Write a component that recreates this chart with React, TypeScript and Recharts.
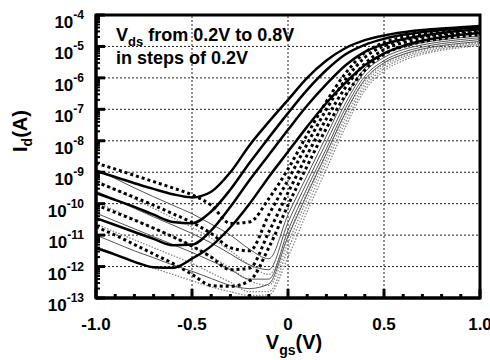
import React from "react";
import { LineChart, Line, XAxis, YAxis, ReferenceLine, ReferenceArea } from "recharts";

// gate voltage (V)
const vgs = [-1.0, -0.9, -0.8, -0.7, -0.6, -0.5, -0.4, -0.3, -0.2, -0.1, 0, 0.1, 0.2, 0.3, 0.4, 0.5, 0.6, 0.7, 0.8, 0.9, 1.0];

// log10(Id), Vds = 0.8 / 0.6 / 0.4 / 0.2 V
const solid08 = [-8.96, -9.15, -9.35, -9.53, -9.7, -9.8, -9.62, -9.0, -8.14, -7.4, -6.7, -6.0, -5.45, -5.05, -4.8, -4.65, -4.55, -4.48, -4.43, -4.39, -4.35];
const solid06 = [-9.66, -9.88, -10.1, -10.35, -10.58, -10.62, -10.25, -9.55, -8.7, -7.9, -7.12, -6.38, -5.75, -5.25, -4.95, -4.76, -4.63, -4.54, -4.48, -4.43, -4.39];
const solid04 = [-10.46, -10.68, -10.9, -11.12, -11.32, -11.3, -10.85, -10.1, -9.25, -8.45, -7.65, -6.88, -6.2, -5.6, -5.17, -4.93, -4.77, -4.66, -4.57, -4.5, -4.45];
const solid02 = [-11.41, -11.62, -11.85, -12.02, -12.04, -11.75, -11.35, -10.75, -10.0, -9.15, -8.35, -7.55, -6.8, -6.15, -5.6, -5.22, -4.98, -4.82, -4.71, -4.63, -4.57];

const dot08 = [-8.71, -8.9, -9.1, -9.3, -9.5, -9.72, -10.05, -10.63, -10.58, -9.84, -8.9, -7.8, -6.75, -5.85, -5.2, -4.88, -4.7, -4.6, -4.53, -4.48, -4.44];
const dot06 = [-9.31, -9.55, -9.8, -10.05, -10.32, -10.6, -10.95, -11.4, -11.5, -10.35, -9.25, -8.1, -7.0, -6.05, -5.35, -4.98, -4.8, -4.68, -4.6, -4.54, -4.5];
const dot04 = [-10.04, -10.28, -10.52, -10.78, -11.05, -11.35, -11.7, -12.1, -12.05, -10.9, -9.65, -8.45, -7.3, -6.3, -5.55, -5.1, -4.88, -4.75, -4.66, -4.6, -4.55];
const dot02 = [-10.74, -11.0, -11.3, -11.6, -11.9, -12.25, -12.6, -12.63, -12.45, -11.4, -10.05, -8.8, -7.6, -6.55, -5.75, -5.25, -5.0, -4.85, -4.75, -4.68, -4.62];

const thin08 = [-8.9, -9.2, -9.5, -9.78, -10.05, -10.32, -10.65, -11.0, -11.45, -11.75, -10.35, -9.1, -7.85, -6.6, -5.7, -5.25, -5.02, -4.88, -4.79, -4.72, -4.67];
const thin06 = [-9.6, -9.88, -10.15, -10.42, -10.68, -10.95, -11.25, -11.6, -11.95, -12.1, -10.6, -9.3, -8.05, -6.8, -5.82, -5.35, -5.1, -4.95, -4.85, -4.78, -4.72];
const thin04 = [-10.3, -10.55, -10.8, -11.05, -11.3, -11.55, -11.82, -12.1, -12.4, -12.4, -10.85, -9.5, -8.25, -6.95, -5.95, -5.45, -5.18, -5.02, -4.91, -4.84, -4.78];
const thin02 = [-11.0, -11.25, -11.5, -11.72, -11.95, -12.15, -12.38, -12.6, -12.7, -12.55, -11.05, -9.7, -8.4, -7.1, -6.05, -5.52, -5.25, -5.08, -4.97, -4.9, -4.84];

const grey08 = [-9.25, -9.55, -9.85, -10.15, -10.45, -10.75, -11.1, -11.5, -11.95, -12.25, -11.0, -9.65, -8.4, -7.1, -6.1, -5.55, -5.28, -5.1, -5.0, -4.93, -4.87];
const grey06 = [-9.95, -10.22, -10.5, -10.78, -11.05, -11.35, -11.68, -12.05, -12.45, -12.6, -11.25, -9.85, -8.55, -7.25, -6.2, -5.62, -5.33, -5.15, -5.04, -4.97, -4.9];
const grey04 = [-10.65, -10.9, -11.15, -11.4, -11.65, -11.9, -12.2, -12.5, -12.8, -12.8, -11.45, -10.05, -8.7, -7.4, -6.3, -5.7, -5.38, -5.2, -5.08, -5.0, -4.93];
const grey02 = [-11.35, -11.6, -11.82, -12.05, -12.25, -12.45, -12.65, -12.8, -12.92, -12.9, -11.7, -10.25, -8.9, -7.55, -6.4, -5.78, -5.45, -5.25, -5.12, -5.04, -4.97];

// axis ticks
const xMajor = [-1.0, -0.5, 0, 0.5, 1.0];
const decades = [-13, -12, -11, -10, -9, -8, -7, -6, -5, -4];
const minorSteps = [2, 3, 4, 5, 6, 7, 8, 9];

const FONT = "'Liberation Sans', Arial, Helvetica, sans-serif";

const series = [
  { key: "grey08", values: grey08, stroke: "#8a8a8a", width: 1.3, dash: "1.5 1.5" },
  { key: "grey06", values: grey06, stroke: "#8a8a8a", width: 1.3, dash: "1.5 1.5" },
  { key: "grey04", values: grey04, stroke: "#8a8a8a", width: 1.3, dash: "1.5 1.5" },
  { key: "grey02", values: grey02, stroke: "#8a8a8a", width: 1.3, dash: "1.5 1.5" },
  { key: "thin08", values: thin08, stroke: "#555", width: 1, dash: undefined },
  { key: "thin06", values: thin06, stroke: "#555", width: 1, dash: undefined },
  { key: "thin04", values: thin04, stroke: "#555", width: 1, dash: undefined },
  { key: "thin02", values: thin02, stroke: "#555", width: 1, dash: undefined },
  { key: "dot08", values: dot08, stroke: "#000", width: 3, dash: "3 3" },
  { key: "dot06", values: dot06, stroke: "#000", width: 3, dash: "3 3" },
  { key: "dot04", values: dot04, stroke: "#000", width: 3, dash: "3 3" },
  { key: "dot02", values: dot02, stroke: "#000", width: 3, dash: "3 3" },
  { key: "solid08", values: solid08, stroke: "#000", width: 2.5, dash: undefined },
  { key: "solid06", values: solid06, stroke: "#000", width: 2.5, dash: undefined },
  { key: "solid04", values: solid04, stroke: "#000", width: 2.5, dash: undefined },
  { key: "solid02", values: solid02, stroke: "#000", width: 2.5, dash: undefined },
];

const data = vgs.map((v, i) => {
  const row: Record<string, number> = { vgs: v };
  series.forEach((s) => {
    row[s.key] = Math.pow(10, s.values[i]);
  });
  return row;
});

const yTicks: number[] = [];
decades.forEach((d) => {
  yTicks.push(Math.pow(10, d));
  if (d < -4) minorSteps.forEach((m) => yTicks.push(m * Math.pow(10, d)));
});

const isMajorX = (v: number) => xMajor.some((m) => Math.abs(m - v) < 1e-6);
const isDecade = (v: number) => Math.abs(Math.log10(v) - Math.round(Math.log10(v))) < 1e-6;
const fmtX = (v: number) => (Math.abs(v) < 1e-9 ? "0" : v.toFixed(1));

const BottomTick = (props: any) => {
  const { x, y, payload } = props;
  const major = isMajorX(payload.value);
  return (
    <g>
      <line x1={x} x2={x} y1={y} y2={y - (major ? 9 : 4)} stroke="#000" strokeWidth={3} />
      {major && (
        <text x={x} y={y + 32} textAnchor="middle" fontFamily={FONT} fontWeight="bold" fontSize={17} fill="#000">
          {fmtX(payload.value)}
        </text>
      )}
    </g>
  );
};

const TopTick = (props: any) => {
  const { x, y, payload } = props;
  const major = isMajorX(payload.value);
  return <line x1={x} x2={x} y1={y} y2={y + (major ? 9 : 4)} stroke="#000" strokeWidth={3} />;
};

const LeftTick = (props: any) => {
  const { x, y, payload } = props;
  const major = isDecade(payload.value);
  const exp = Math.round(Math.log10(payload.value));
  return (
    <g>
      <line x1={x} x2={x + (major ? 9 : 4)} y1={y} y2={y} stroke="#000" strokeWidth={major ? 3 : 2} />
      {major && (
        <text x={x - 12} y={y + 13} textAnchor="end" fontFamily={FONT} fontWeight="bold" fontSize={17} fill="#000">
          10
          <tspan dy={-9} fontSize={12}>
            {exp}
          </tspan>
        </text>
      )}
    </g>
  );
};

const RightTick = (props: any) => {
  const { x, y, payload } = props;
  const major = isDecade(payload.value);
  return <line x1={x} x2={x - (major ? 9 : 4)} y1={y} y2={y} stroke="#000" strokeWidth={major ? 3 : 2} />;
};

const App = () => {
  return (
    <div style={{ position: "absolute", left: 0, top: 0, width: 490, height: 360, background: "#fff" }}>
      <LineChart width={490} height={360} data={data} margin={{ top: 15, right: 10, bottom: 0, left: 10 }}>
        <XAxis
          dataKey="vgs"
          type="number"
          domain={[-1, 1]}
          ticks={vgs}
          interval={0}
          tick={<BottomTick />}
          tickLine={false}
          tickSize={0}
          tickMargin={0}
          height={62}
          axisLine={{ stroke: "#000", strokeWidth: 3 }}
        />
        <XAxis
          xAxisId="top"
          orientation="top"
          type="number"
          domain={[-1, 1]}
          ticks={vgs}
          interval={0}
          tick={<TopTick />}
          tickLine={false}
          tickSize={0}
          tickMargin={0}
          height={0}
          axisLine={{ stroke: "#000", strokeWidth: 3 }}
        />
        <YAxis
          type="number"
          scale="log"
          domain={[1e-13, 1e-4]}
          allowDataOverflow
          ticks={yTicks}
          interval={0}
          tick={<LeftTick />}
          tickLine={false}
          tickSize={0}
          tickMargin={0}
          width={86}
          axisLine={{ stroke: "#000", strokeWidth: 3 }}
        />
        <YAxis
          yAxisId="right"
          orientation="right"
          type="number"
          scale="log"
          domain={[1e-13, 1e-4]}
          allowDataOverflow
          ticks={yTicks}
          interval={0}
          tick={<RightTick />}
          tickLine={false}
          tickSize={0}
          tickMargin={0}
          width={0}
          axisLine={{ stroke: "#000", strokeWidth: 3 }}
        />
        {xMajor.slice(1, -1).map((v) => (
          <ReferenceLine key={"gx" + v} x={v} stroke="#222" strokeWidth={1} strokeDasharray="2 2" />
        ))}
        {decades.slice(1, -1).map((d) => (
          <ReferenceLine key={"gy" + d} y={Math.pow(10, d)} stroke="#222" strokeWidth={1} strokeDasharray="2 2" />
        ))}
        {series.map((s) => (
          <Line
            key={s.key}
            dataKey={s.key}
            type="monotone"
            stroke={s.stroke}
            strokeWidth={s.width}
            strokeDasharray={s.dash}
            dot={false}
            activeDot={false}
            isAnimationActive={false}
          />
        ))}
        <ReferenceArea x1={-1} x2={1} y1={1e-13} y2={1e-4} fill="none" stroke="#000" strokeWidth={3} ifOverflow="visible" />
      </LineChart>
      <svg width={490} height={360} style={{ position: "absolute", left: 0, top: 0, pointerEvents: "none" }}>
        <text x={116} y={41} fontFamily={FONT} fontWeight="bold" fontSize={18} fill="#000">
          V<tspan dy={5} fontSize={13}>ds</tspan>
          <tspan dy={-5}> from 0.2V to 0.8V</tspan>
        </text>
        <text x={116} y={64} fontFamily={FONT} fontWeight="bold" fontSize={18} fill="#000">
          in steps of 0.2V
        </text>
        <text x={294} y={349} textAnchor="middle" fontFamily={FONT} fontWeight="bold" fontSize={20} fill="#000">
          V<tspan dy={6} fontSize={14}>gs</tspan>
          <tspan dy={-6}>(V)</tspan>
        </text>
        <text transform="translate(27,131) rotate(-90)" textAnchor="middle" fontFamily={FONT} fontWeight="bold" fontSize={20} fill="#000">
          I<tspan dy={5} fontSize={14}>d</tspan>
          <tspan dy={-5}>(A)</tspan>
        </text>
      </svg>
    </div>
  );
};

export default App;
